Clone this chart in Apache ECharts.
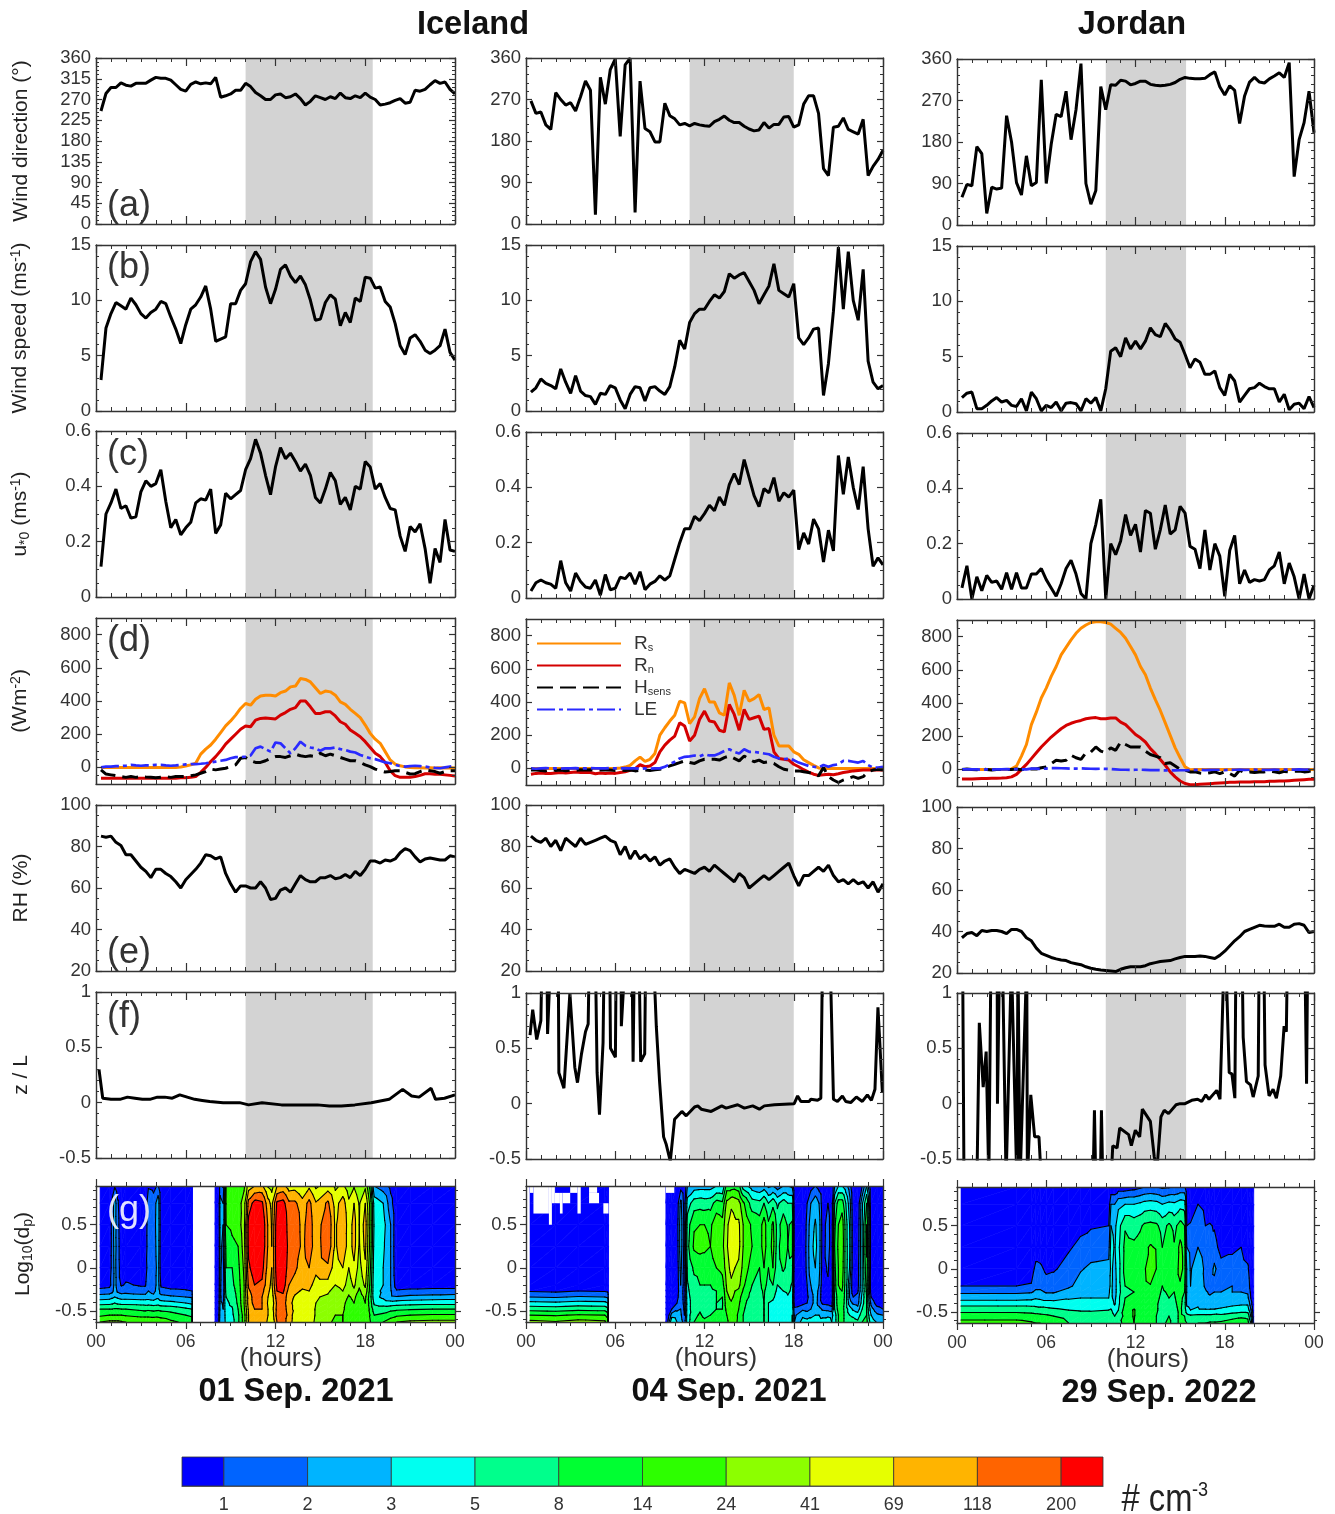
<!DOCTYPE html>
<html>
<head>
<meta charset="utf-8">
<title>Iceland and Jordan</title>
<script src="https://cdn.jsdelivr.net/npm/echarts@6/dist/echarts.min.js"></script>
<style>
  html, body { margin: 0; padding: 0; background: #fff; }
  #canvas { width: 1335px; height: 1514px; }
</style>
</head>
<body>
<div id="canvas"></div>
<script>
// ---- data, one value every 20 minutes ----
var windDirA = [245,283,296,296,306,301,299,305,305,305,312,318,
  316,316,312,302,292,288,303,308,304,306,304,318,
  275,278,282,290,290,305,298,285,278,270,270,280,
  282,274,276,282,272,258,266,278,274,270,276,272,
  284,274,272,278,274,284,275,270,258,260,263,268,
  272,262,264,290,288,292,302,311,305,308,292,282];
var windDirB = [267,240,243,215,205,285,270,258,263,245,276,310,
  290,20,318,260,335,358,190,345,360,25,310,207,
  200,178,178,262,235,228,215,218,213,218,215,213,
  212,222,227,234,225,220,220,212,206,202,204,220,
  208,216,216,232,233,210,215,260,278,278,240,120,
  105,210,212,230,205,200,195,227,105,125,140,160];
var windDirC = [60,88,85,170,155,25,82,78,80,237,180,92,
  65,150,85,92,315,90,175,240,235,290,185,250,
  350,90,45,75,300,250,304,303,314,312,304,307,
  312,312,305,303,302,303,305,309,316,320,318,317,
  317,318,326,332,300,282,302,292,220,280,310,320,
  310,308,317,323,330,320,352,105,185,222,290,200];

var windSpdA = [2.8,7.5,8.8,9.8,9.5,9.2,10.2,9.6,8.8,8.4,8.9,9.2,
  9.9,9.7,8.5,7.4,6.1,7.8,9.2,9.6,10.3,11.3,9.2,6.3,
  6.5,6.7,9.7,9.7,10.9,11.5,13.5,14.4,13.7,11.2,9.7,11,
  12.8,13.2,12.2,11.6,12.2,11.4,10,8.2,8.3,9.8,10.5,10.1,
  7.7,8.9,8,10.2,9.9,12.1,12,11.1,11.2,9.9,9.4,7.9,
  5.9,5.1,6.6,6.9,6.3,5.5,5.2,5.5,5.9,7.4,5.3,4.6];
var windSpdB = [1.7,2.1,2.9,2.5,2.3,2,3.8,2.6,1.6,3.2,1.8,1.4,
  1.3,.6,1.6,1.5,2.3,2.1,1,.2,1.5,2.2,2.1,.9,
  2.1,2.2,1.8,1.5,2.2,4,6.4,5.6,8,8.8,9.2,9.2,
  9.9,10.5,10.2,10.8,12.4,12,12.3,12.5,11.7,10.9,9.7,10.5,
  11.3,13.3,10.9,10.6,10.3,11.5,6.6,6,6.6,7.4,7.5,1.4,
  4.3,9,14.8,9.2,14.4,10,8.2,12.8,4.5,2.6,2,2.3];
var windSpdC = [1.3,1.7,1.8,.3,.3,.6,1,1.3,.9,1.05,.6,.5,
  1.2,.1,1.8,1.2,.1,.6,.4,.9,.1,.8,.85,.75,
  .1,1.2,.8,1.3,.1,2.1,5.5,5.8,5,6.7,5.7,6.4,
  5.7,6.4,7.6,7,6.8,8,7.4,6.6,6.3,5.2,4,4.8,
  4.5,3.4,3.4,3.7,2.2,1.5,3.4,2.8,.9,1.5,2.1,2.2,
  2.6,2.3,2.1,2.1,.9,1.6,.2,.7,.8,.3,1.4,.4];

var ustarA = [.11,.3,.34,.39,.32,.33,.285,.29,.38,.42,.4,.41,
  .46,.345,.25,.28,.225,.25,.27,.34,.355,.35,.39,.23,
  .26,.375,.355,.37,.385,.46,.5,.57,.52,.44,.37,.47,
  .54,.5,.52,.49,.455,.48,.44,.36,.34,.39,.45,.42,
  .335,.36,.315,.4,.39,.49,.47,.39,.41,.36,.32,.315,
  .22,.165,.255,.235,.265,.175,.05,.175,.125,.28,.17,.165];
var ustarB = [.025,.055,.065,.055,.05,.035,.135,.055,.025,.09,.06,.04,
  .035,.065,.01,.085,.03,.035,.075,.07,.09,.05,.095,.03,
  .05,.06,.08,.065,.08,.14,.2,.25,.25,.295,.28,.305,
  .335,.315,.365,.335,.41,.45,.41,.5,.435,.37,.33,.395,
  .38,.435,.35,.38,.365,.39,.175,.235,.195,.285,.25,.13,
  .245,.17,.515,.375,.51,.4,.32,.475,.25,.115,.145,.12];
var ustarC = [.04,.12,0,.08,.03,.085,.06,.065,.035,.095,.035,.095,
  .04,.04,.09,.09,.11,.07,.04,.01,.055,.11,.14,.09,
  .02,0,.2,.27,.36,0,.2,.16,.21,.305,.23,.27,
  .17,.32,.31,.18,.25,.34,.235,.25,.335,.31,.19,.18,
  .11,.25,.105,.2,.155,.01,.175,.23,.055,.105,.06,.07,
  .065,.07,.105,.12,.17,.055,.13,.08,0,.09,0,.05];

var rsA = [0,0,0,0,0,0,0,0,0,0,0,0,
  0,0,0,0,3,8,15,25,80,110,135,170,
  210,250,280,315,355,385,375,410,430,435,435,430,
  450,460,485,490,535,530,515,480,445,460,455,435,
  395,380,350,325,300,255,205,170,145,95,45,20,
  10,3,0,-2,-2,-3,-2,-3,-2,-3,-2,-3];
var rnA = [-65,-65,-65,-65,-65,-65,-65,-65,-65,-65,-65,-65,
  -65,-65,-65,-65,-62,-62,-60,-55,-30,0,35,65,
  100,140,170,200,230,250,245,285,295,298,295,292,
  315,330,350,360,400,400,365,325,325,335,335,310,
  275,260,225,205,185,155,120,85,65,30,-20,-50,
  -60,-60,-60,-55,-48,-38,-38,-42,-42,-45,-48,-52];
var hsensA = [-15,-40,-45,-50,-55,-60,-55,-60,-55,-58,-60,-62,
  -60,-55,-60,-55,-55,-55,-50,-45,-35,-25,-10,-15,
  -10,-5,5,15,55,60,40,30,30,40,55,65,
  65,60,70,80,70,65,70,65,85,70,80,70,
  60,50,40,40,30,15,5,-10,-20,-28,-25,-20,
  -20,-30,-40,-38,-25,-15,-20,-25,-35,-25,-20,-20];
var leA = [0,5,5,8,8,10,15,12,10,12,12,15,
  15,12,10,12,15,18,20,20,22,25,30,35,
  40,45,55,62,62,65,72,115,125,110,95,150,
  145,115,85,115,155,130,120,115,100,115,115,120,
  110,105,95,90,75,65,55,50,40,30,25,15,
  8,5,8,10,8,5,0,-3,-5,0,5,8];

var rsB = [0,0,0,0,0,0,0,0,0,0,0,0,
  0,0,0,0,0,0,3,8,18,45,68,42,
  55,90,200,245,285,320,405,395,270,310,420,480,
  400,400,335,320,515,440,320,470,405,420,445,355,
  365,200,135,135,135,100,85,52,35,18,3,0,
  0,0,0,0,0,0,0,0,0,0,0,0];
var rnB = [-35,-30,-28,-30,-30,-28,-25,-28,-25,-22,-25,-23,
  -25,-32,-28,-30,-28,-30,-25,-20,-12,-2,22,10,
  15,35,100,140,170,195,275,255,165,200,295,345,
  285,280,230,220,385,325,230,355,295,305,315,235,
  240,100,60,55,50,25,10,-8,-22,-35,-42,-38,
  -35,-38,-32,-25,-20,-15,-12,-10,-10,-10,-8,-10];
var hsensB = [-10,-10,-12,-15,-8,-12,-10,-15,-10,-12,-8,-10,
  -8,-12,-10,-8,-10,-12,-10,-12,-10,-15,-12,-10,
  -12,-8,-5,5,15,25,35,45,35,30,45,55,
  55,55,50,65,75,60,45,75,55,40,50,35,
  40,30,10,-5,-10,-15,-15,-20,-25,-30,-45,5,
  -50,-70,-85,-70,-60,-50,-60,-50,-20,-10,-5,-10];
var leB = [0,-2,0,2,0,0,-2,0,0,2,0,0,
  2,0,0,0,2,0,0,2,0,0,-2,0,
  -2,0,0,10,25,40,60,70,72,78,72,85,
  78,78,90,105,115,100,90,115,100,100,95,90,
  85,70,60,55,60,50,35,25,15,10,5,20,
  10,20,25,45,45,40,35,45,20,5,5,10];

var rsC = [0,0,0,0,0,0,0,0,0,0,3,20,
  80,150,270,345,430,490,560,620,690,735,780,820,
  850,870,885,890,890,885,875,850,825,790,740,690,
  620,570,490,420,355,280,205,130,70,15,-2,0,
  0,0,0,0,0,0,0,0,0,0,0,0,
  0,0,0,0,0,0,0,0,0,0,0,0];
var rnC = [-58,-58,-58,-56,-55,-55,-54,-53,-52,-50,-45,-30,
  0,30,65,100,135,165,195,220,245,265,278,288,
  295,305,310,312,305,305,310,310,285,270,240,210,
  190,165,125,95,60,25,-15,-45,-70,-85,-92,-92,
  -90,-88,-86,-84,-82,-80,-78,-78,-76,-76,-76,-74,
  -74,-74,-72,-72,-70,-70,-68,-66,-64,-62,-60,-60];
var hsensC = [0,2,0,-2,2,0,-3,0,0,0,0,2,
  -2,5,2,2,10,15,35,55,50,55,85,70,
  60,100,105,135,110,100,130,115,165,150,135,135,
  135,110,90,80,70,35,40,20,0,-5,-15,-15,
  -22,-25,-20,-15,-25,-15,-25,-40,-5,-20,-15,-18,
  -15,-15,-10,-15,-20,-12,-15,-12,-10,-15,-12,-5];
var leC = [0,0,0,0,-2,0,-2,0,0,2,0,2,
  0,0,5,5,3,5,8,8,7,6,5,5,
  6,5,4,3,4,3,2,0,-2,-2,-3,-2,
  -2,-3,-4,-4,-5,-6,-6,-6,-5,-5,-4,-3,
  -3,-4,-3,-2,-2,-4,-3,-2,-1,-3,-2,-1,
  -3,-2,-3,-1,-2,-1,-2,-1,0,-1,0,2];

var rhA = [85,84.5,85,82,80.5,76,76,73,70,68,65,69,
  69,67,65.5,63,60,64,66.5,69,72,76,75.5,74,
  75,67,62,58,61,61,60,60,63,60,54.5,55,
  59,60,58,62,66,64,63,63,65,65,66,64.5,
  65,66.5,65,68,66,69,73,73,72,73.5,73,74,
  77,79,78,75,72.5,74,74.5,74,73.5,73.5,75.5,75];
var rhB = [85,83,82,84,80,83,78,84,82,80,84,81,
  82,83,84,85,83,82,76,80,74,78,74,76,
  73,75,71,73,74,70,67,69,68,67,69,70,
  68,71,69,67,65,63,67,65,60,62,64,66,
  64,66,68,70,72,66,61,66,66,68,70,68,
  71,66,63,64,62,64,62,63,60,63,58,62];
var rhC = [37,39,39.5,38,40.5,40,40.5,40.5,40,39,41,41,
  40,37,35.5,32,29.5,28.5,27.5,26.8,26.3,26,25,24.5,
  24,23,22.3,21.8,21.4,21.2,21,20.7,21.8,22.5,23,23,
  23,23.5,24.5,25,25.5,25.8,26,26.8,27.5,28,28,28,
  28.2,28,27.5,27,28.5,30.5,33,35.5,37.5,40,41,42,
  43,42.7,42.5,42.5,43.5,42,42,43.5,43.8,43,39.5,40];

// z/L has spikes that leave the axis, so it keeps its own times
var zlHoursA = [.2,.45,1,1.6,2.1,2.6,3.1,3.6,4.1,4.6,5.1,5.6,6.1,6.6,7.1,7.6,8.5,9.6,10.2,11.1,12.4,13.6,14.8,15.6,16.4,17.3,18.4,19.6,20.5,21.1,21.6,22.4,22.7,23.3,24];
var zlA = [.3,.04,.03,.03,.05,.04,.03,.03,.05,.05,.04,.07,.05,.03,.02,.01,0,0,-.02,0,-.02,-.02,-.02,-.03,-.03,-.02,0,.03,.12,.06,.05,.13,.03,.04,.07];
var zlHoursB = [.27,.45,.72,1,1.07,1.41,1.45,1.65,2.17,2.21,2.55,2.95,3.28,3.46,3.73,4,4.18,4.25,4.67,4.78,4.94,5.18,5.25,5.63,5.68,6.01,6.06,6.39,6.41,6.66,7.13,7.2,7.28,7.6,7.71,7.98,8.04,8.58,8.76,8.98,9.25,9.43,9.7,9.99,10.48,10.77,11.33,11.55,11.78,12.45,13.16,13.45,14.23,14.68,15.24,15.69,16.02,16.7,18.03,18.26,18.48,19.04,19.15,19.6,19.82,19.93,20.45,20.67,20.94,21.27,21.5,21.83,22.21,22.61,22.95,23.22,23.46,23.66,23.96];
var zlB = [.62,.85,.58,.75,1.3,1.3,.63,1.3,1.3,.28,.14,1,.33,.19,.45,.65,.72,1.3,1.3,.28,-.1,.55,1.3,1.3,.5,.42,1.3,1.3,.7,1.3,1.3,.38,1.3,1.3,.38,.45,1.3,1.3,.7,.2,-.3,-.37,-.52,-.14,-.07,-.11,-.03,-.02,-.05,-.07,-.02,-.04,-.01,-.04,-.02,-.05,-.02,-.01,0,.07,.02,.02,.04,.03,.05,1.3,1.3,.04,.02,.07,.02,.01,.06,.02,.08,.03,.13,.87,.1];
var zlHoursC = [.38,.47,1.34,1.5,1.76,1.96,2.14,2.28,2.7,2.72,2.86,3.06,3.3,3.66,4.02,4.1,4.24,4.69,4.73,4.96,5.22,5.51,5.67,9.15,9.24,9.33,9.64,9.71,9.8,10.36,10.47,10.76,10.94,11.54,11.72,11.99,12.28,12.46,13,13.26,13.44,13.71,13.93,14.22,14.73,15,15.33,15.78,16.18,16.45,16.72,16.94,17.46,17.68,17.95,18.1,18.3,18.48,18.68,18.75,19.17,19.24,19.46,19.73,19.91,20.25,20.31,20.63,20.71,20.98,21.25,21.47,21.76,21.99,22.14,22.21,23.39,23.5,23.57];
var zlC = [1.3,-.7,-.7,.73,.15,.47,-.7,1.3,1.3,0,1.3,1.3,-.7,1.3,-.7,1.3,-.7,1.3,-.7,.08,-.3,-.3,-.7,-.7,-.06,-.7,-.7,-.06,-.7,-.7,-.38,-.4,-.22,-.28,-.38,-.24,-.3,-.05,-.16,-.48,-.6,-.12,-.06,-.09,-.01,0,0,.03,.04,.02,.08,.04,.12,.04,1.3,1.2,.28,.27,.05,1.3,1.3,.6,.2,.17,.06,.25,1.3,1.3,.35,.07,.13,.05,.25,.7,.65,1.3,1.3,.18,1.3];

// particle size spectra: concentration band position (0 = below 1 cm-3) per time and size,
// sizes run from the bottom of the panel to the top, null = no measurement
var sizeRows = [-.63,-.55,-.48,-.41,-.34,-.27,-.2,0,.25,.5,.75,.95];
var spectrumHoursA = [.27,.9,1.1,1.25,1.45,1.7,2,3,3.3,3.5,3.85,4.15,4.35,5,6,6.42,6.45,7,7.95,8.2,8.3,8.5,8.7,9.1,9.5,9.9,10.2,10.6,11.1,11.5,11.75,12.1,12.5,12.9,13.3,13.8,14.25,14.7,15.5,16,16.5,16.9,17.25,17.6,18,18.35,18.6,19.2,19.7,20.1,21,22.5,24];
var spectrumA = [
  [7,5.8,5,3.6,2.5,1.3,.6,.3,.2,.2,.1,0],
  [7.2,6,5,3.7,2.6,1.4,.7,.3,.2,.2,.1,0],
  [7.2,6,5,3.8,2.8,1.7,1.4,1.5,1.5,1.5,1.4,.3],
  [7.2,6,5.1,4,3,2.6,2.4,2.3,2.4,2.5,2.6,.9],
  [7.2,6,5.1,3.8,2.8,1.8,1.5,1.5,1.5,1.4,1.2,.2],
  [7.1,6,5,3.7,2.6,1.5,.9,.4,.2,.1,.1,0],
  [7,5.9,5,3.7,2.6,1.6,1.1,.5,.2,0,0,0],
  [6.8,5.7,4.8,3.6,2.5,1.4,.9,.4,.1,0,0,0],
  [6.8,5.7,4.7,3.6,2.5,1.4,.9,.6,.3,.2,.3,.2],
  [6.8,5.7,4.8,3.6,2.6,2,1.7,1.4,1.6,1.7,1.6,.9],
  [6.8,5.6,4.7,3.5,2.4,1.6,1.4,1.2,1.3,1.4,1.3,.8],
  [6.7,5.7,4.8,3.6,2.8,2.6,2.5,2.5,2.7,2.8,2.7,1.1],
  [6.6,5.6,4.7,3.4,2.4,1.4,.8,.3,.2,.2,.1,0],
  [6.2,5.4,4.6,3.3,2.2,1.2,.6,.2,.1,0,0,0],
  [5.8,5,4.2,3,2,1.1,.6,.2,.1,0,0,0],
  [5.5,4.8,4,2.8,1.9,1,.5,.2,.1,0,0,0],
  [0,0,0,0,0,0,0,0,0,0,0,0],
  null,
  [0,0,0,0,0,0,0,0,0,0,0,0],
  [1,.8,.6,.5,.4,.3,.2,.1,.1,.1,.1,.1],
  [2.5,2.4,2.3,2.2,2.2,2.2,2.2,2.2,2.2,2.3,2.4,1.5],
  [2,2,2,1.9,1.5,1.3,1.3,1.5,1.8,2,2,.9],
  [3.5,3.6,3.7,3.8,4,4.5,4.7,5,5.4,6,6.2,6],
  [3.6,3.8,3.9,4.2,4.4,4.6,4.8,5,5.8,6.2,6.3,6.1],
  [4.8,4.8,5,5.2,5.3,5.4,5.5,5.7,6,6.4,6.5,6.3],
  [6.5,6.5,6.8,7,7,7,7,7.2,7.5,7.7,7.5,6.8],
  [9,9,9.2,9.5,9.5,9.8,10.2,10.8,11.3,11.4,10.4,8.5],
  [9.5,9.8,10,10.3,10.4,10.6,11,11.6,12,12,11.4,9],
  [9.8,9.9,10,10,10,10.3,10.8,11.4,11.9,11.9,11.2,9.2],
  [8.8,9,9,8.9,9,9.2,9.3,9.6,9.9,9.9,9.4,7.9],
  [8,8.3,8.5,8.3,8.4,8.6,8.8,9,9,8.9,8.7,7.6],
  [10,10.4,10.3,10.2,10.5,11,11.3,11.7,11.8,11.7,11.2,9],
  [10.5,11,10.8,10.6,10.7,11.2,11.6,12,12.2,12.1,11.4,9.3],
  [9.5,9.5,9.3,9.2,9.4,9.6,10,10.4,10.6,10.4,10.2,8.5],
  [8.5,8.6,8.8,8.8,8.9,9.2,9.6,10.2,10.8,10.8,10.2,8.6],
  [8.4,8.5,8.6,8.7,8.8,8.9,9.2,9.5,9.7,9.6,9.4,8],
  [8.5,8.6,8.6,8.7,8.9,9,9.3,10,10.6,10.6,10.3,8.8],
  [7.8,7.9,7.9,8,8.1,8.3,8.6,9.3,9.4,9.3,9.1,7.8],
  [7.2,7.4,7.5,7.6,7.8,8.2,8.6,9.8,10.8,10.9,10.2,8.5],
  [6.8,7,7,7.1,7.2,7.5,8,8.4,8.8,8.8,8.6,7.8],
  [7,7,7.1,7.2,7.5,8,8.4,9,9.9,10,9.5,8.2],
  [6.5,6.6,6.7,6.7,6.9,7.2,7.5,8,8.4,8.4,8.2,7.4],
  [6.7,6.8,6.9,7,7.2,7.8,8.2,8.8,9.4,9.4,9,7.9],
  [6.2,6.3,6.3,6.4,6.5,6.8,7.2,7.6,7.9,8,7.9,7],
  [6.5,6.8,6.9,7,7.2,7.7,8.2,8.8,9.3,9.5,9,7.8],
  [6,5.9,5.7,5.5,5.3,5.5,5.6,6,6.5,6.6,6.5,5.5],
  [5.6,5,4.5,3.8,3.3,3.2,3.2,3.4,3.6,3.8,3.6,2],
  [6,5.2,4.5,3.5,2.8,2.9,3,3,3.2,3.4,3,1.5],
  [6.5,5.6,4.7,3.4,2.2,2.1,2,2,2,2,1.4,.7],
  [7,5.8,4.8,3.5,2.1,1.1,.5,.2,.1,.1,.1,0],
  [7.2,6,4.9,3.6,2.3,1.2,.6,.2,.1,0,0,0],
  [7.3,6.1,5,3.7,2.4,1.3,.6,.2,.1,0,0,0],
  [7.3,6.1,5,3.7,2.5,1.3,.6,.2,.1,0,0,0]
];
var spectrumHoursB = [.27,2,3.5,5.3,5.5,5.55,7,9.4,9.55,9.8,10.15,10.4,10.65,10.85,11.3,11.7,12,12.4,12.8,13.2,13.5,13.8,14.05,14.3,14.6,15.2,15.7,16,16.3,16.6,16.9,17.3,17.6,17.9,18.05,18.6,18.9,19.15,19.45,19.7,19.95,20.3,20.55,20.75,21,21.25,21.5,21.75,22,22.3,22.6,22.9,23.2,23.6,24];
var spectrumB = [
  [7.3,6,4.6,3.3,2,.9,.3,0,0,0,0,0],
  [7.1,5.9,4.5,3.2,1.9,.8,.3,0,0,0,0,0],
  [7.4,6.1,4.7,3.4,2.1,1,.3,0,0,0,0,0],
  [7.2,6,4.6,3.3,2,.9,.3,0,0,0,0,0],
  [6.5,5.5,4.2,3,1.8,.8,.2,0,0,0,0,0],
  [0,0,0,0,0,0,0,0,0,0,0,0],
  null,
  [0,0,0,0,0,0,0,0,0,0,0,0],
  [1.2,.5,0,0,0,0,0,0,0,0,0,0],
  [4,2.5,1,.3,0,0,0,0,0,0,0,0],
  [3,2.4,1.8,1,.6,.4,.3,.3,.4,.5,.3,0],
  [2.5,2.2,2,1.8,1.8,1.8,2,2.3,2.6,2.6,2.3,.6],
  [1.5,1,.8,.6,.5,.4,.5,.5,.6,.6,.5,.1],
  [3.5,3.5,3.6,3.6,3.7,3.8,3.9,4.2,4.7,4.5,3.5,2],
  [5,4.8,4.5,4.5,4.5,4.6,4.7,5.2,6.2,5.9,4.5,2.5],
  [5.4,5.1,4.9,4.7,4.7,4.8,5,5.3,6.4,6,4.6,2.6],
  [5.2,4.8,4.6,4.6,4.7,4.9,5,5.3,6.3,6,4.5,2.6],
  [5.4,5,4.8,4.8,4.8,4.9,5,5.4,6,5.8,4.6,2.6],
  [5.6,5.2,5,5,5,5,5.2,6,6.8,6.7,5.4,3],
  [5.2,5,5,4.9,5,5.2,5.6,6.3,6.7,6.4,5.2,3],
  [5.8,6,6.3,6.6,6.8,7,7.2,7.6,7.9,7.8,7.3,5.5],
  [6.5,6.6,6.7,6.9,7.2,7.4,7.8,8.3,8.6,8.5,7.8,5.5],
  [6.6,6.5,6.5,6.7,6.8,7,7.4,8,8.3,8.2,7.6,5.6],
  [5.5,5.7,6,6.2,6.4,6.8,7.3,7.8,8.3,8.2,7.4,5.4],
  [5,5,5.1,5.2,5.5,5.9,6.2,6.7,7,7,6.2,3.5],
  [4.4,4.5,4.5,4.6,4.7,4.8,5,5.5,6,5.8,4.5,2.5],
  [4.6,4.6,4.5,4.4,4.5,4.6,4.7,5,5.5,5.5,4.3,2.2],
  [5,5,5,5,5.1,5.2,5.5,6,6.5,6.5,5,2.5],
  [4,4,4,4,4,4,4.5,5,5.3,5.2,4,1.8],
  [3.5,3.5,3.6,3.8,4.2,4.5,5,6,6.4,6.2,4.7,2],
  [3.2,3.4,3.4,3.5,3.6,3.8,4,4.3,4.5,4.6,3.8,1.5],
  [3,3,3.1,3.3,3.5,4,4.2,5.2,6,5.5,4.5,2],
  [3.5,3.5,3.7,3.8,3.9,4.2,4.3,4.7,5,4.9,4,2],
  [4,4,3.8,3.6,3.6,3.8,3.9,4.5,5.4,5.2,4,1.8],
  [2,1.8,1.2,.4,.2,.2,.2,.2,.2,.2,.1,0],
  [3.4,2.8,1.8,.7,.2,0,0,0,0,0,0,0],
  [3.3,2.6,1.6,1,.8,.9,1,1.3,1.4,1.3,1,.2],
  [3.3,2.8,2,1.5,1.5,1.8,2,2.7,2.8,2.6,2,.6],
  [3.3,3,2.8,2.5,2.5,2.6,2.8,3,3.2,3.1,2.7,1],
  [3.2,3,2.4,1.5,1.6,1.7,2,2.4,2.6,2.5,2,.6],
  [3.3,2.8,1.8,.8,.3,.3,.3,.4,.4,.4,.3,.1],
  [3.5,2.8,1.7,.7,.2,.4,.8,1.2,1.7,1.6,1,.1],
  [3,2.7,1.5,.4,.1,.1,.1,.1,.1,.1,.1,0],
  [3.5,3.5,4,4.2,4.2,4.5,4.6,4.8,5,4.8,4,2],
  [5,5,5.4,5.6,5.6,5.8,6,6,6.2,6,5.5,3],
  [5.5,5.5,5.4,5.6,5.8,6,6.3,6.6,6.8,6.6,5.5,3],
  [4.5,4.5,4.5,4.5,4.5,4.5,4.5,4.5,4.5,4.5,4,2.4],
  [4.5,4,3.5,2.5,2,2,2.2,3,3.2,3,2.5,1.5],
  [4.4,3.8,2.8,1.8,1,.4,.2,.2,.2,.2,.1,0],
  [4.2,3.5,2.4,1.6,1.4,.8,.6,.5,.3,.2,.1,0],
  [5,4.5,4,3.5,3.3,3,3,3,3,3,2.8,1],
  [5.3,5,5,5,5,5.2,5.4,5.8,6.2,6,5,3],
  [3.5,3,2.4,1.7,1,.4,.2,.2,.2,.2,.1,0],
  [2.9,2.2,1.4,.5,0,0,0,0,0,0,0,0],
  [2.9,2,1,.3,0,0,0,0,0,0,0,0]
];
// blocks with no value at the top of the 04 Sep. panel: hour from, hour to, size from, size to
var missingHours = [[.27,.5],[.5,1.54],[1.54,1.74],[1.74,1.94],[1.94,2.28],[2.28,2.46],[2.46,2.97],[2.97,3.46],[3.46,3.68],[4.24,4.78],[4.24,4.91],[5.2,5.55],[9.4,9.97]];
var missingSizes = [[.87,.95],[.63,.95],[.5,.95],[.75,.95],[.75,.87],[.63,.87],[.75,.87],[.87,.95],[.63,.95],[.87,.95],[.75,.87],[.63,.75],[.87,.95]];
var spectrumHoursC = [.27,4,5,5.3,5.6,6,6.5,7.5,8.3,9,10.2,10.35,10.6,10.85,11.3,11.9,12.3,12.6,13,13.4,13.8,14.25,14.6,15,15.3,15.45,15.7,16.2,16.7,17,17.3,17.75,18.5,19.1,19.55,19.75,19.95];
var spectrumC = [
  [6.3,5.6,4.6,3.7,2.6,1.8,1,.3,0,0,0,0],
  [6.3,5.6,4.6,3.7,2.6,1.8,1,.3,0,0,0,0],
  [6.1,5.5,4.5,3.7,2.7,1.9,1.1,.5,0,0,0,0],
  [6,5.4,4.4,3.7,2.9,2.2,1.7,1.3,.4,0,0,0],
  [6,5.3,4.4,3.6,2.8,2.2,1.7,1.2,.4,0,0,0],
  [5.9,5.2,4.3,3.6,2.6,1.9,1.4,.8,.1,0,0,0],
  [5.6,5,4.2,3.5,2.6,1.9,1.4,.9,.2,0,0,0],
  [5,4.7,4,3.4,2.9,2.4,1.8,1.3,.9,.3,0,0],
  [4.8,4.5,3.9,3.4,3,2.7,2.4,1.9,1.2,.8,0,0],
  [4.8,4.4,3.9,3.4,3,2.9,2.6,2.2,1.5,.9,.2,0],
  [4.5,4.3,4,3.4,3,2.9,2.7,2.3,1.6,1,.3,0],
  [4.7,4.4,4.1,3.5,3.2,3.2,3.2,3.2,3.4,3,2,.2],
  [4.5,4,3.6,2.9,2.7,2.6,2.6,2.7,2.9,2.7,2,.2],
  [4.8,4.4,4,3.8,3.8,3.6,3.6,3.6,3.8,3.6,2.8,.4],
  [5.2,5.3,5.5,5.2,5,4.9,5,5.4,5.3,4.9,3,.4],
  [6,6.1,6.1,5.5,5,5,5.1,5.3,5.2,4.6,3,.6],
  [5,5.2,5.4,5.2,5,5,5.2,5.4,5.5,4.8,3.2,.8],
  [5.2,5.3,5.4,5.4,5.4,5.5,5.6,5.8,5.8,5.2,3.4,1],
  [5.4,5.5,5.6,5.7,5.7,5.8,5.9,7,6.1,5.3,3.5,1.1],
  [5,5,5.1,5.1,5.2,5.3,5.5,6,5.9,5.2,3.4,1],
  [4.8,4.8,4.7,4.7,4.8,4.9,5,5,5,4.6,3,.8],
  [5.2,5,4.8,4.9,5,5.1,5.3,5.8,6,5.2,3.3,.9],
  [4.6,4.6,4.7,4.8,4.9,5,5,5,5.1,4.7,3.2,1],
  [5.2,5.2,5.2,5.3,5.4,5.5,5.8,6.5,6.3,5.4,3.6,1.2],
  [5.3,5,4.6,4.5,4.6,5,5.2,5.6,5.6,5,3.5,1.2],
  [5,4.4,3.4,2.8,2.8,2.9,2.9,2.9,2,1,.6,.1],
  [4.9,4.2,3,2.6,2,2.1,2,1.9,1.7,1.1,.4,0],
  [5,4.3,3.1,2.9,2.6,2.6,2.5,2.6,2,1.5,1,0],
  [5,4.3,3.1,2.5,2.2,2.1,1.9,1.8,1.5,1,.8,0],
  [5.1,4.3,3.1,2.4,2.1,1.9,1.6,1.5,1.3,1.1,.2,0],
  [5.1,4.4,3.1,2.5,2.2,2,1.7,2.2,1.4,.9,0,0],
  [5.2,4.3,3.2,2.6,2.2,2,1.7,1.4,.6,.2,0,0],
  [5.5,4.6,3.4,2.8,2.3,2,2,1.4,.8,0,0,0],
  [5.6,4.8,3.5,2.9,2.3,2,1.9,1.5,1,0,0,0],
  [5.4,4.7,3.5,2.9,2.2,1.9,1.7,1.2,.3,0,0,0],
  [4,3,2.2,1.5,1,.8,.5,.2,0,0,0,0],
  [0,0,0,0,0,0,0,0,0,0,0,0]
];

var shadeHours = [[10,18.5],[11,18],[10,15.4]];
var hourLabels = ['00','06','12','18','00'];
var bandColors = ['#0000ff','#0064ff','#00b4ff','#00fff0','#00ff8c','#00ff32','#2dff00','#8cff00','#e6ff00','#ffb400','#ff6400','#ff0000'];
var bandLabels = ['1','2','3','5','8','14','24','41','69','118','200'];
var panelLetters = ['(a)','(b)','(c)','(d)','(e)','(f)','(g)'];
var dates = ['01 Sep. 2021','04 Sep. 2021','29 Sep. 2022'];

// ---- layout ----
var FONT = '"Liberation Sans", Arial, sans-serif';
var INK = '#333';
var colLeft = [96,526,957], colRight = [455,883,1314];
var rowTop = [[58,245,431,618,805,992,1186],[58,245,432,619,805,993,1186],[59,246,433,620,807,993,1187]];
var rowHeight = [166,166,166,166,166,166,136];
var letterY = [206,268,455,641,953,1017,1211];

var sampleHours = [];
for (var h = 1; h <= 72; h++) sampleHours.push(h / 3);

function pairs(xs, ys) { return ys.map(function (v, i) { return [xs[i], v]; }); }

var styleBlack = {color:'#000', width:3, type:'solid'};
var fluxStyles = {
  Rs: {color:'#ff8c00', width:3, type:'solid'},
  Rn: {color:'#d40000', width:3, type:'solid'},
  Hsens: {color:'#000', width:3, type:[16,7]},
  LE: {color:'#2a2aff', width:2.7, type:[18,4,4,4]}
};

var rows = [
  {name:'Wind direction (°)', min:0, max:360, ticks:[[0,45,90,135,180,225,270,315,360],[0,90,180,270,360],[0,90,180,270,360]], interval:[45,90,90], minor:5, lines:[windDirA,windDirB,windDirC]},
  {name:'Wind speed (ms{sup|-1})', min:0, max:15, ticks:[[0,5,10,15]], interval:[5,5,5], minor:5, lines:[windSpdA,windSpdB,windSpdC]},
  {name:'u{sub|*0} (ms{sup|-1})', min:0, max:.6, ticks:[[0,.2,.4,.6]], interval:[.2,.2,.2], minor:4, lines:[ustarA,ustarB,ustarC]},
  {name:'(Wm{sup|-2})', min:-100, max:900, ticks:[[0,200,400,600,800]], minorValues:[-50,50,100,150,250,300,350,450,500,550,650,700,750,850], flux:[[rsA,rnA,hsensA,leA],[rsB,rnB,hsensB,leB],[rsC,rnC,hsensC,leC]]},
  {name:'RH (%)', min:20, max:100, ticks:[[20,40,60,80,100]], interval:[20,20,20], minor:4, lines:[rhA,rhB,rhC]},
  {name:'z / L', min:-.5, max:1, ticks:[[-.5,0,.5,1]], interval:[.5,.5,.5], minor:5, zl:[[zlHoursA,zlA],[zlHoursB,zlB],[zlHoursC,zlC]]},
  {name:'Log{sub|10}(d{sub|p})', min:-.63, max:.95, ticks:[[-.5,0,.5]], minorValues:[-.6,-.4,-.3,-.2,-.1,.1,.2,.3,.4,.6,.7,.8,.9],
    spectra:[[spectrumHoursA,spectrumA],[spectrumHoursB,spectrumB],[spectrumHoursC,spectrumC]]}
];

// ---- contour drawing: iso-bands of the read grid, through the axis scales ----
function clipBand(poly, th, above) {
  var out = [];
  for (var i = 0; i < poly.length; i++) {
    var a = poly[i], b = poly[(i + 1) % poly.length];
    var ina = above ? a[2] >= th : a[2] <= th;
    var inb = above ? b[2] >= th : b[2] <= th;
    if (ina) out.push(a);
    if (ina !== inb) {
      var f = (th - a[2]) / (b[2] - a[2]);
      out.push([a[0] + f * (b[0] - a[0]), a[1] + f * (b[1] - a[1]), th]);
    }
  }
  return out;
}

function cellTriangles(api) {
  var t0 = api.value(0), t1 = api.value(1), y0 = api.value(2), y1 = api.value(3);
  function pt(t, y, v) { var c = api.coord([t, y]); return [c[0], c[1], v]; }
  var a = pt(t0, y0, api.value(4)), b = pt(t1, y0, api.value(5));
  var c = pt(t1, y1, api.value(6)), d = pt(t0, y1, api.value(7));
  return [[a, b, c], [a, c, d]];
}

function renderBands(params, api) {
  var children = [];
  cellTriangles(api).forEach(function (tri) {
    var lo = Math.min(tri[0][2], tri[1][2], tri[2][2]);
    var hi = Math.max(tri[0][2], tri[1][2], tri[2][2]);
    for (var k = Math.min(Math.floor(lo), 11); k <= Math.min(Math.floor(hi), 11); k++) {
      var poly = k > 0 ? clipBand(tri, k, true) : tri;
      if (k < 11 && poly.length) poly = clipBand(poly, k + 1, false);
      if (poly.length < 3) continue;
      children.push({type:'polygon', silent:true,
        shape:{points:poly.map(function (p) { return [p[0], p[1]]; })},
        style:{fill:bandColors[k], stroke:bandColors[k], lineWidth:.6}});
    }
  });
  return {type:'group', children:children};
}

function renderContours(params, api) {
  var children = [];
  cellTriangles(api).forEach(function (tri) {
    for (var l = 1; l <= 11; l++) {
      var cross = [];
      for (var i = 0; i < 3; i++) {
        var a = tri[i], b = tri[(i + 1) % 3];
        if ((a[2] < l) !== (b[2] < l)) {
          var f = (l - a[2]) / (b[2] - a[2]);
          cross.push([a[0] + f * (b[0] - a[0]), a[1] + f * (b[1] - a[1])]);
        }
      }
      if (cross.length === 2) {
        children.push({type:'line', silent:true,
          shape:{x1:cross[0][0], y1:cross[0][1], x2:cross[1][0], y2:cross[1][1]},
          style:{stroke:'#000', lineWidth:1.1, lineCap:'round'}});
      }
    }
  });
  return {type:'group', children:children};
}

function renderMissing(params, api) {
  var a = api.coord([api.value(0), api.value(3)]);
  var b = api.coord([api.value(1), api.value(2)]);
  return {type:'rect', silent:true, shape:{x:a[0], y:a[1], width:b[0] - a[0], height:b[1] - a[1]}, style:{fill:'#fff'}};
}

function spectrumCells(hours, grid) {
  var cells = [];
  for (var c = 0; c + 1 < hours.length; c++) {
    if (!grid[c] || !grid[c + 1]) continue;
    for (var r = 0; r + 1 < sizeRows.length; r++) {
      cells.push([hours[c], hours[c + 1], sizeRows[r], sizeRows[r + 1], grid[c][r], grid[c + 1][r], grid[c + 1][r + 1], grid[c][r + 1]]);
    }
  }
  return cells;
}

// ---- build the options ----
var grids = [], xAxes = [], yAxes = [], series = [], graphics = [];
var axisLine = {show:true, onZero:false, lineStyle:{color:INK, width:1.4}};
var nameRich = {
  sup:{fontSize:14, fontFamily:FONT, color:'#222', verticalAlign:'top', lineHeight:23},
  sub:{fontSize:14, fontFamily:FONT, color:'#222', verticalAlign:'bottom', lineHeight:23}
};

rows.forEach(function (row, ri) {
  [0,1,2].forEach(function (col) {
    var g = grids.length, isG = ri === 6;
    grids.push({left:colLeft[col], width:colRight[col] - colLeft[col], top:rowTop[col][ri], height:rowHeight[ri], containLabel:false});

    var xi = xAxes.length, yi = yAxes.length;
    ['bottom','top'].forEach(function (pos) {
      xAxes.push({gridIndex:g, type:'value', position:pos, min:0, max:24, interval:6, z:10,
        axisLine:axisLine, splitLine:{show:false},
        axisTick:{show:true, inside:!isG, length:isG ? 7 : 8, lineStyle:{color:INK, width:1.2}},
        minorTick:{show:true, splitNumber:6, length:4, lineStyle:{color:INK, width:1}},
        axisLabel:{show:isG && pos === 'bottom', margin:11, fontSize:17.5, fontFamily:FONT, color:INK,
          formatter:function (v) { return hourLabels[v / 6]; }}
      });
    });

    var ticks = row.ticks[col] || row.ticks[0];
    ['left','right'].forEach(function (pos) {
      var ax = {gridIndex:g, type:'value', position:pos, min:row.min, max:row.max, z:10,
        axisLine:axisLine, splitLine:{show:false},
        axisTick:{show:true, inside:!isG, length:6, lineStyle:{color:INK, width:1.2}, customValues:ticks},
        axisLabel:{show:pos === 'left', customValues:ticks, margin:isG ? 9 : 5, fontSize:18.5, fontFamily:FONT, color:INK, showMinLabel:true, showMaxLabel:true, padding:[3,0,0,0]}
      };
      if (row.interval) {
        ax.interval = row.interval[col];
        ax.minorTick = {show:true, splitNumber:row.minor, length:3, lineStyle:{color:INK, width:1}};
      }
      if (col === 0 && pos === 'left') {
        ax.name = row.name;
        ax.nameLocation = 'middle';
        ax.nameRotate = 90;
        ax.nameGap = isG ? 61 : 64;
        ax.nameTextStyle = {fontSize:21, fontFamily:FONT, color:'#222', rich:nameRich};
      }
      yAxes.push(ax);
    });
    if (row.minorValues) {
      // short ticks where min is not a multiple of the step
      ['left','right'].forEach(function (pos) {
        yAxes.push({gridIndex:g, type:'value', position:pos, min:row.min, max:row.max, z:10,
          axisLine:{show:false, onZero:false}, splitLine:{show:false}, axisLabel:{show:false},
          axisTick:{show:true, inside:!isG, length:3, lineStyle:{color:INK, width:1}, customValues:row.minorValues}});
      });
    }

    var shade = {silent:true, itemStyle:{color:'#d3d3d3'}, label:{show:false},
      data:[[{xAxis:shadeHours[col][0]}, {xAxis:shadeHours[col][1]}]]};
    function line(name, data, style, withShade) {
      var s = {type:'line', name:name, xAxisIndex:xi, yAxisIndex:yi, data:data, symbol:'none',
        lineStyle:style, itemStyle:{color:style.color}, z:3, silent:true, clip:true};
      if (withShade) s.markArea = shade;
      series.push(s);
    }

    if (row.lines) {
      line('p' + g, pairs(sampleHours, row.lines[col]), styleBlack, true);
    } else if (row.zl) {
      line('p' + g, pairs(row.zl[col][0], row.zl[col][1]), styleBlack, true);
    } else if (row.flux) {
      var names = ['Rs','Rn','Hsens','LE'];
      row.flux[col].forEach(function (vals, k) {
        line(names[k], pairs(sampleHours, vals), fluxStyles[names[k]], k === 0);
      });
    } else {
      var cells = spectrumCells(row.spectra[col][0], row.spectra[col][1]);
      var base = {type:'custom', xAxisIndex:xi, yAxisIndex:yi, clip:true, silent:true, progressive:0,
        encode:{x:[0,1], y:[2,3]}, data:cells};
      series.push(Object.assign({}, base, {name:'b' + g, renderItem:renderBands, z:2}));
      series.push(Object.assign({}, base, {name:'c' + g, renderItem:renderContours, z:3}));
      if (col === 1) {
        series.push({type:'custom', name:'m' + g, xAxisIndex:xi, yAxisIndex:yi, clip:true, silent:true, z:4,
          encode:{x:[0,1], y:[2,3]}, renderItem:renderMissing,
          data:missingHours.map(function (m, i) { return [m[0], m[1], missingSizes[i][0], missingSizes[i][1]]; })});
      }
    }
  });

  graphics.push({type:'text', x:107, y:letterY[ri], z:100,
    style:{text:panelLetters[ri], x:0, y:0, fontSize:36, fontFamily:FONT, fill:ri === 6 ? 'rgba(255,255,255,.88)' : INK, verticalAlign:'middle'}});
});

// colour bar
var barGrid = grids.length, barX = xAxes.length, barY = yAxes.length;
var bandEdges = [], bandMids = [];
bandColors.forEach(function (c, i) { bandEdges.push([i === 0 ? 0 : i - .5, i === 11 ? 11 : i + .5]); });
for (var m = 0; m < bandLabels.length; m++) bandMids.push(m + .5);
grids.push({left:182, width:921, top:1457, height:30});
xAxes.push({gridIndex:barGrid, type:'value', min:0, max:11, position:'bottom', z:10,
  axisLine:{show:true, onZero:false, lineStyle:{color:'#555', width:1.2}}, splitLine:{show:false},
  axisTick:{show:false},
  axisLabel:{customValues:bandMids, margin:10, fontSize:18, fontFamily:FONT, color:INK,
    formatter:function (v) { return bandLabels[Math.round(v - .5)]; }}});
yAxes.push({gridIndex:barGrid, type:'value', min:0, max:1, show:false});
series.push({type:'custom', name:'bar', xAxisIndex:barX, yAxisIndex:barY, silent:true, clip:false,
  encode:{x:[0,1]}, data:bandEdges,
  renderItem:function (params, api) {
    var a = api.coord([api.value(0), 1]), b = api.coord([api.value(1), 0]);
    return {type:'rect', shape:{x:a[0], y:a[1], width:b[0] - a[0], height:b[1] - a[1]},
      style:{fill:bandColors[params.dataIndex], stroke:'#333', lineWidth:.8}};
  }});

function label(text, x, y, size, bold, extra, scaleX) {
  graphics.push({type:'text', x:x, y:y, z:100, scaleX:scaleX || 1, style:Object.assign({text:text, x:0, y:0, fontSize:size,
    fontFamily:FONT, fontWeight:bold ? 'bold' : 'normal', fill:bold ? '#111' : INK, align:'center', verticalAlign:'middle'}, extra || {})});
}
label('Iceland', 473, 25, 32.5, true);
label('Jordan', 1132, 25, 32.5, true);
label('(hours)', 281, 1359, 26, false);
label('(hours)', 716, 1359, 26, false);
label('(hours)', 1148, 1360, 26, false);
label(dates[0], 296, 1392, 32.5, true);
label(dates[1], 729, 1392, 32.5, true);
label(dates[2], 1159, 1393, 32.5, true);
label('# cm', 1157, 1501, 38, false, {fill:'#222'}, .86);
label('-3', 1200, 1490, 21, false, {fill:'#222'}, .86);

var legendText = {Rs:'{m|R}{s|s}', Rn:'{m|R}{s|n}', Hsens:'{m|H}{s|sens}', LE:'{m|LE}'};

var myChart = echarts.init(document.getElementById('canvas'), null, {renderer:'canvas'});
myChart.setOption({
  animation:false,
  backgroundColor:'#fff',
  grid:grids,
  xAxis:xAxes,
  yAxis:yAxes,
  series:series,
  graphic:{elements:graphics},
  legend:{left:536, top:634, padding:0, orient:'vertical', itemWidth:84, itemHeight:14, itemGap:3, selectedMode:false, z:20,
    data:['Rs','Rn','Hsens','LE'],
    itemStyle:{opacity:0},
    formatter:function (n) { return legendText[n]; },
    textStyle:{padding:[0,0,0,8], fontFamily:FONT, color:INK,
      rich:{m:{fontSize:19, fontFamily:FONT, color:INK}, s:{fontSize:11, fontFamily:FONT, color:INK, verticalAlign:'bottom', lineHeight:19}}}}
});
</script>
</body>
</html>
